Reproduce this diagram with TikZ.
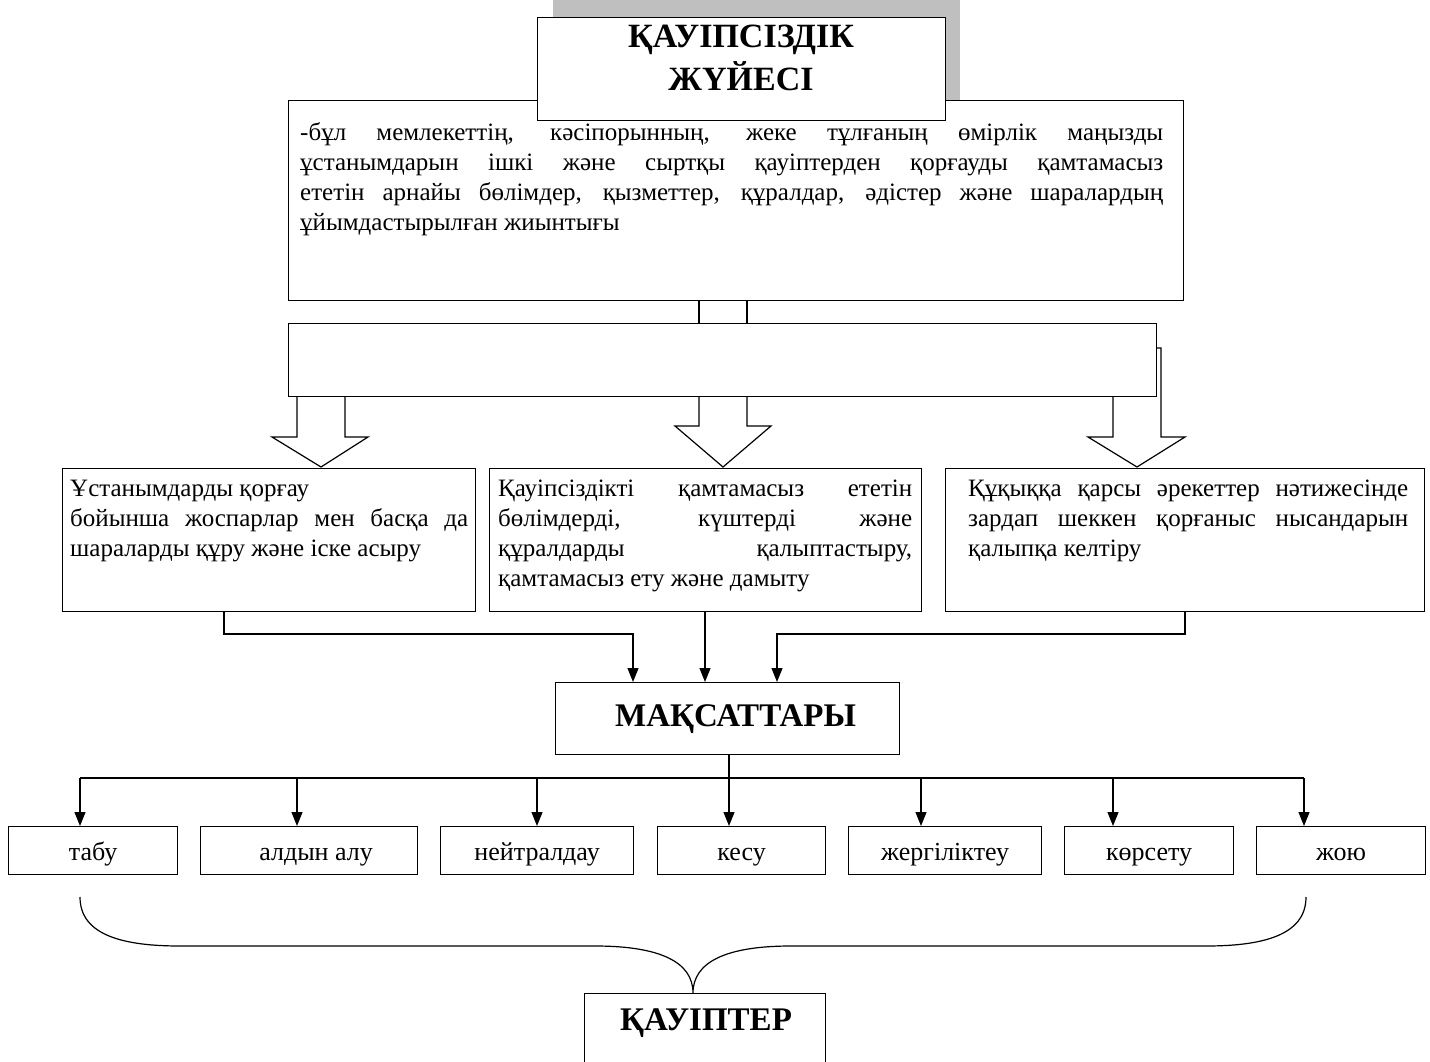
\documentclass[tikz,border=0pt]{standalone}
\usepackage{fontspec}
\setmainfont{Liberation Serif}
\usetikzlibrary{arrows.meta, positioning, calc}

\tikzset{
  box/.style={draw, line width=1.2pt, fill=white, inner sep=0pt},
  bodytext/.style={inner sep=0pt, align=justify, font=\fontsize{25}{30}\selectfont},
  headtext/.style={inner sep=0pt, align=center, font=\bfseries\fontsize{34}{43}\selectfont},
  goal/.style={box, minimum height=48pt, text height=24pt, text depth=4pt, font=\fontsize{26}{30}\selectfont},
  link/.style={line width=1.2pt},
  arr/.style={link, -{Triangle[length=14pt,width=11pt]}},
  hollow/.style={line width=1.2pt, fill=white, line join=miter},
}

\begin{document}
\begin{tikzpicture}[x=1pt, y=-1pt]
\useasboundingbox (0,0) rectangle (1430,1062);
\clip (0,0) rectangle (1430,1062);

% title and definition
\fill[black!25] (553,-10) rectangle (960,117);
\node[box, minimum width=895pt, minimum height=200pt, anchor=north west] (desc) at (288,100) {};
\node[box, minimum width=408pt, minimum height=103pt, anchor=north west] (title) at (537,17) {};
\node[headtext] (titletxt) at (741,58) {ҚАУІПСІЗДІК\\ЖҮЙЕСІ};
\node[bodytext, text width=863pt, anchor=north west] (desctxt) at (300,122)
  {-бұл мемлекеттің, кәсіпорынның, жеке тұлғаның өмірлік маңызды\linebreak
   ұстанымдарын ішкі және сыртқы қауіптерден қорғауды қамтамасыз\linebreak
   ететін арнайы бөлімдер, қызметтер, құралдар, әдістер және шаралардың\linebreak
   ұйымдастырылған жиынтығы};

% hollow arrows, then the empty band over their tops
\draw[hollow] (297,396) -- (297,437) -- (272,437) -- (321,467) -- (368,437) -- (345,437) -- (345,396);
\draw[hollow] (699,396) -- (699,426) -- (675,426) -- (723,467) -- (771,426) -- (747,426) -- (747,396);
\draw[hollow] (1113,396) -- (1113,437) -- (1088,437) -- (1137,467) -- (1185,437) -- (1161,437) -- (1161,348) -- (1156,348);
\node[box, minimum width=868pt, minimum height=73pt, anchor=north west] (band) at (288,323) {};
\draw[link] (699,0 |- desc.south) -- (699,0 |- band.north);
\draw[link] (747,0 |- desc.south) -- (747,0 |- band.north);

% three tasks
\node[box, minimum width=413pt, minimum height=143pt, anchor=north west] (taskA) at (62,468) {};
\node[box, minimum width=432pt, minimum height=143pt, anchor=north west] (taskB) at (489,468) {};
\node[box, minimum width=479pt, minimum height=143pt, anchor=north west] (taskC) at (945,468) {};
\node[bodytext, text width=398pt, anchor=north west] (taskAtxt) at (70,480)
  {Ұстанымдарды қорғау\\
   бойынша жоспарлар мен басқа да\linebreak
   шараларды құру және іске асыру};
\node[bodytext, text width=414pt, anchor=north west] (taskBtxt) at (498,480)
  {Қауіпсіздікті қамтамасыз ететін\linebreak
   бөлімдерді, күштерді және\linebreak
   құралдарды қалыптастыру,\linebreak
   қамтамасыз ету және дамыту};
\node[bodytext, text width=440pt, anchor=north west] (taskCtxt) at (968,480)
  {Құқыққа қарсы әрекеттер нәтижесінде\linebreak
   зардап шеккен қорғаныс нысандарын\linebreak
   қалыпқа келтіру};

% aims
\node[box, minimum width=344pt, minimum height=72pt, anchor=north west, font=\bfseries\fontsize{33}{36}\selectfont] (aims) at (555,682) {\hspace*{16pt}МАҚСАТТАРЫ};
\draw[arr] (224,0 |- taskA.south) |- (633,634) -- (633,0 |- aims.north);
\draw[arr] (705,0 |- taskB.south) -- (705,0 |- aims.north);
\draw[arr] (1185,0 |- taskC.south) |- (777,634) -- (777,0 |- aims.north);

% actions
\node[goal, minimum width=169pt, anchor=north west] (find) at (8,826) {табу};
\node[goal, minimum width=217pt, anchor=north west] (prevent) at (200,826) {\hspace*{14pt}алдын алу};
\node[goal, minimum width=193pt, anchor=north west] (neutral) at (440,826) {нейтралдау};
\node[goal, minimum width=168pt, anchor=north west] (cut) at (657,826) {кесу};
\node[goal, minimum width=193pt, anchor=north west] (locate) at (848,826) {жергіліктеу};
\node[goal, minimum width=169pt, anchor=north west] (show) at (1064,826) {көрсету};
\node[goal, minimum width=169pt, anchor=north west] (destroy) at (1256,826) {жою};
\coordinate (hub) at (729,778);
\draw[link] (729,0 |- aims.south) -- (hub);
\draw[link] (80,778) -- (1304,778);
\foreach \x/\n in {80/find, 297/prevent, 537/neutral, 729/cut, 921/locate, 1113/show, 1304/destroy}
  \draw[arr] (\x,778) -- (\x,0 |- \n.north);

% threats
\node[box, minimum width=241pt, minimum height=110pt, anchor=north west] (threat) at (584,993) {};
\node[headtext, font=\bfseries\fontsize{33}{43}\selectfont] (threattxt) at (706,1023) {ҚАУІПТЕР};
\draw[link] (80,897) .. controls (80,936) and (125,946) .. (180,946) -- (595,946)
  .. controls (660,946) and (693,962) .. (693,0 |- threat.north)
  .. controls (693,962) and (726,946) .. (791,946) -- (1206,946)
  .. controls (1261,946) and (1306,936) .. (1306,897);
\end{tikzpicture}
\end{document}
